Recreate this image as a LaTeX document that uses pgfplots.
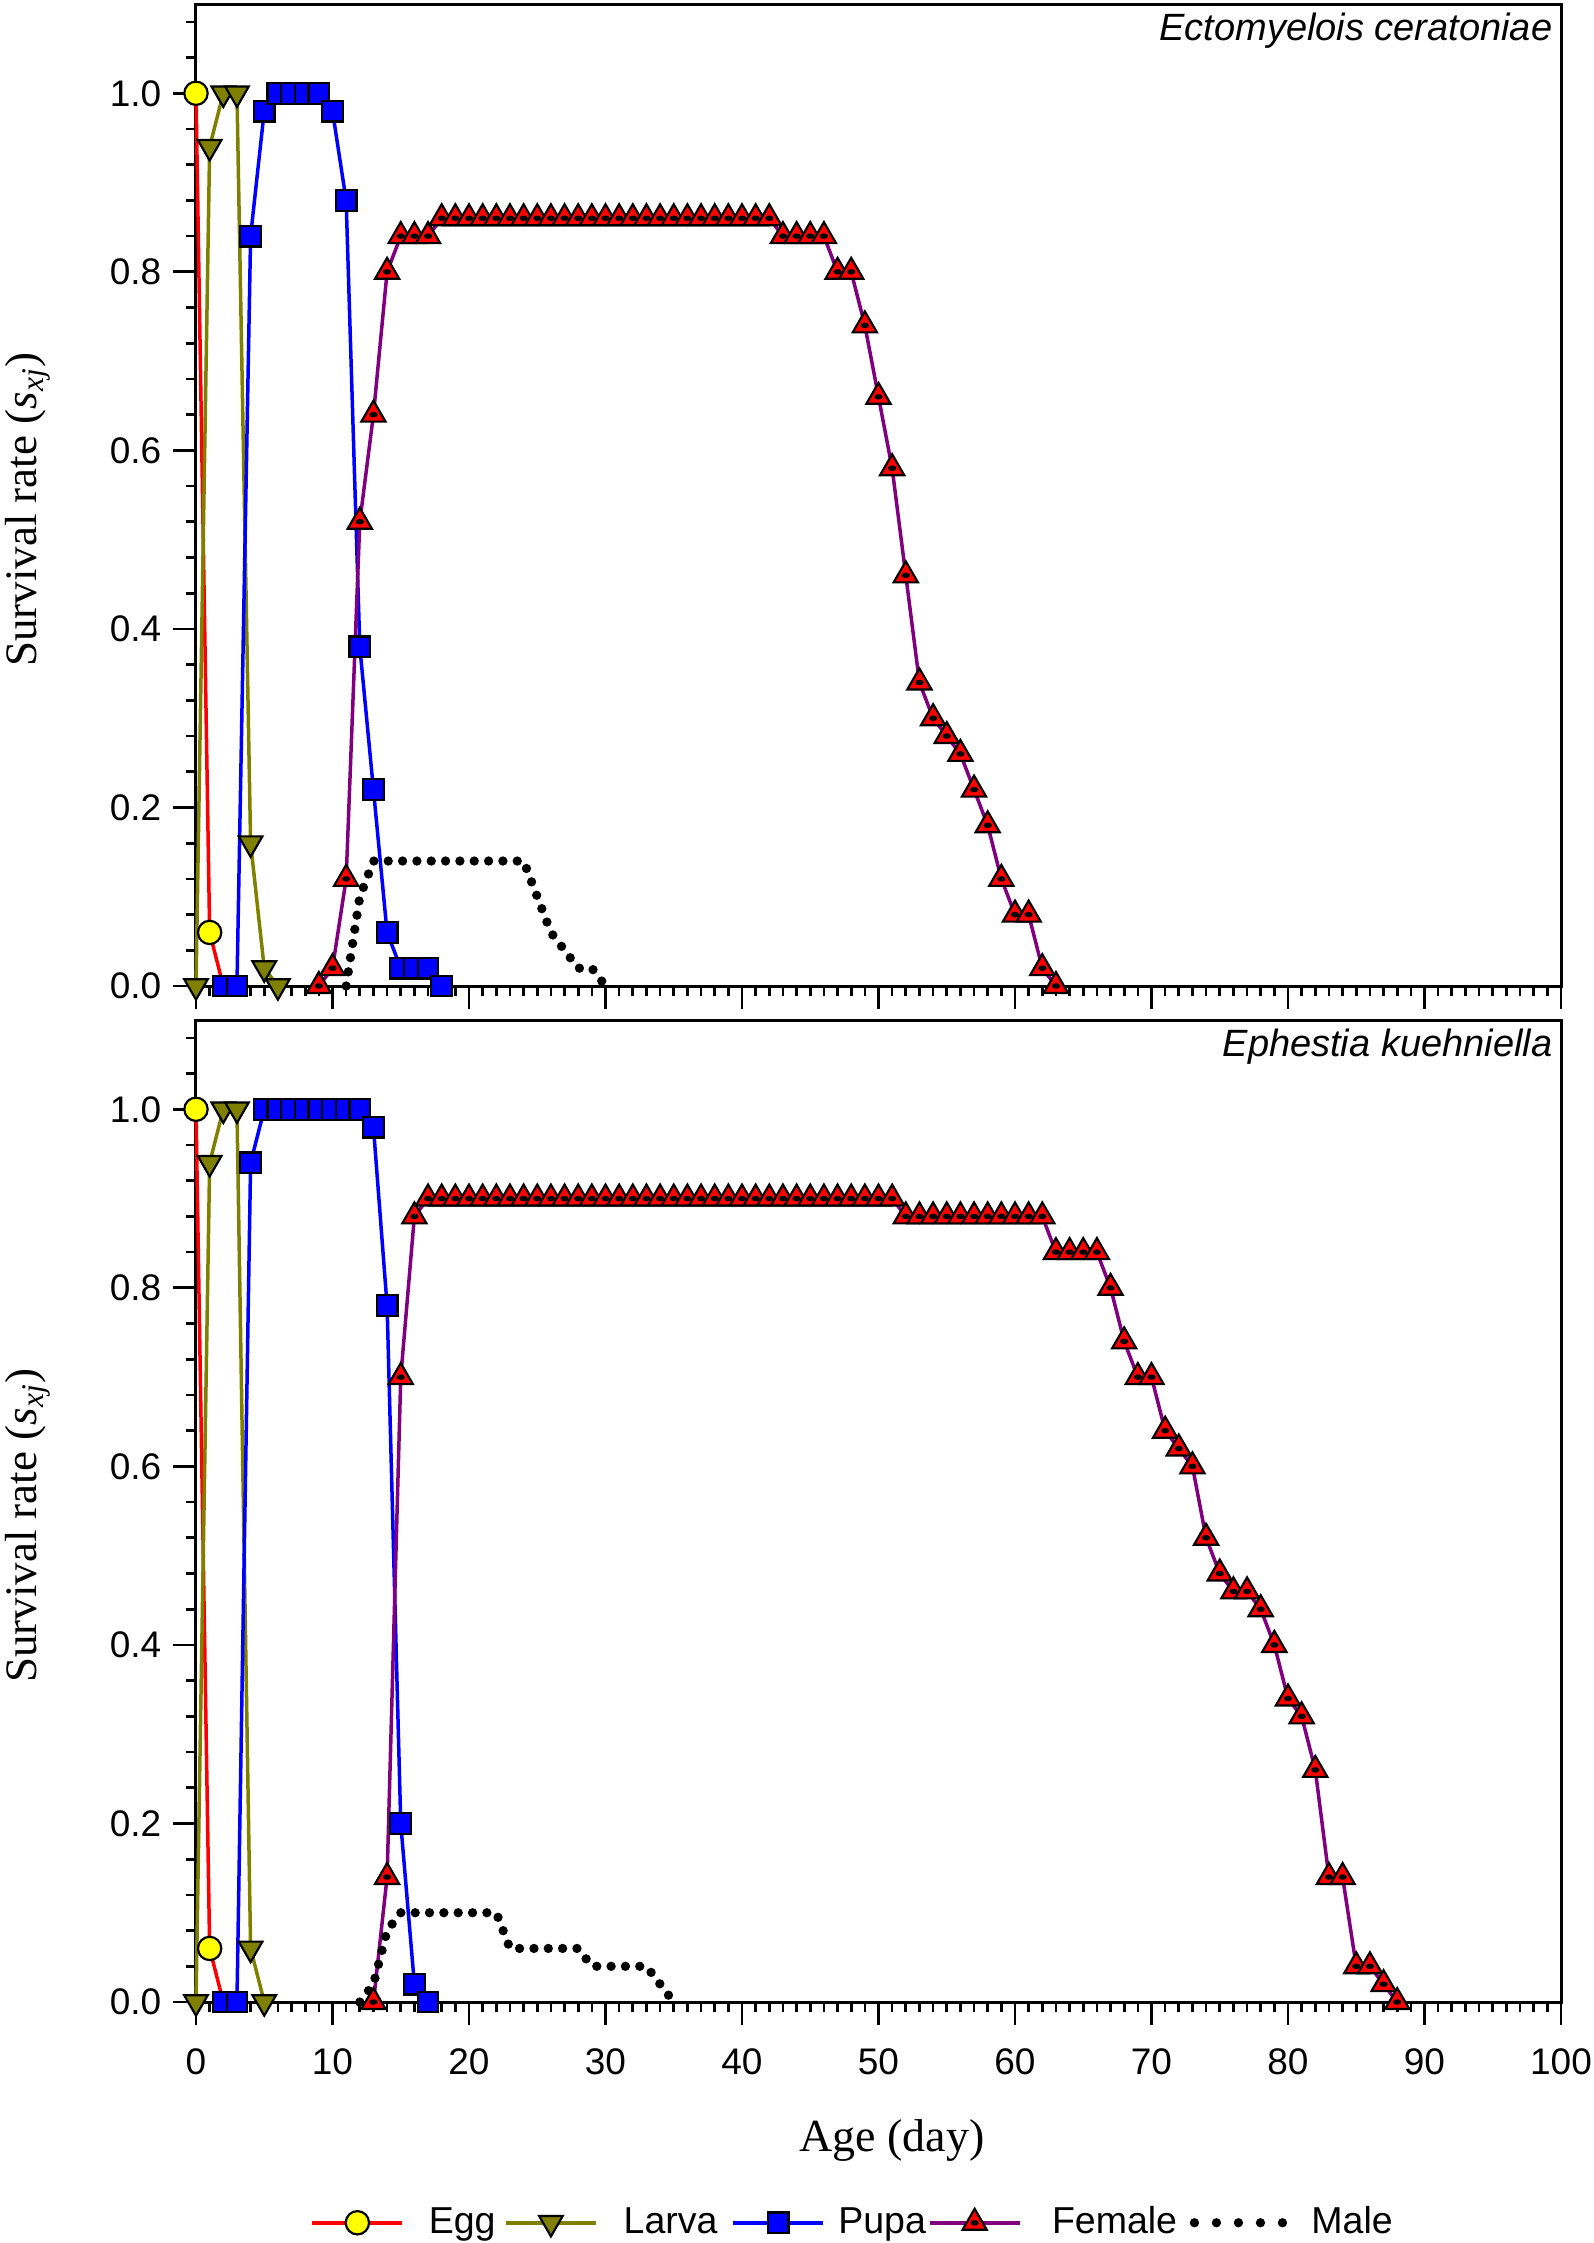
\documentclass[border=0pt]{standalone}
\usepackage{fontspec}
\setmainfont{Liberation Sans}
\newfontfamily\timesfont{Liberation Serif}
\usepackage{pgfplots}
\usepackage{pgfplotstable}
\pgfplotsset{compat=1.18}

\definecolor{eggred}{RGB}{255,0,0}
\definecolor{eggyellow}{RGB}{255,255,0}
\definecolor{larvaolive}{RGB}{128,128,0}
\definecolor{pupablue}{RGB}{0,0,255}
\definecolor{femalepurple}{RGB}{128,0,128}
\definecolor{femalered}{RGB}{255,0,0}

\pgfdeclareplotmark{tridot}{%
  \pgfpathmoveto{\pgfqpointpolar{90}{\pgfplotmarksize}}%
  \pgfpathlineto{\pgfqpointpolar{210}{\pgfplotmarksize}}%
  \pgfpathlineto{\pgfqpointpolar{330}{\pgfplotmarksize}}%
  \pgfpathclose
  \pgfusepathqfillstroke
  \pgfscope
  \pgfsetfillcolor{black}%
  \pgfpathellipse{\pgfpointorigin}{\pgfqpoint{0.3\pgfplotmarksize}{0pt}}{\pgfqpoint{0pt}{0.2\pgfplotmarksize}}%
  \pgfusepathqfill
  \endpgfscope
}

% ---------------- data: Ectomyelois ceratoniae ----------------
\pgfplotstableread{
x y
0 1.00
1 0.06
2 0.00
}\EggA
\pgfplotstableread{
x y
0 0.00
1 0.94
2 1.00
3 1.00
4 0.16
5 0.02
6 0.00
}\LarvaA
\pgfplotstableread{
x y
2 0.00
3 0.00
4 0.84
5 0.98
6 1.00
7 1.00
8 1.00
9 1.00
10 0.98
11 0.88
12 0.38
13 0.22
14 0.06
15 0.02
16 0.02
17 0.02
18 0.00
}\PupaA
\pgfplotstableread{
x y
9 0.00
10 0.02
11 0.12
12 0.52
13 0.64
14 0.80
15 0.84
16 0.84
17 0.84
18 0.86
19 0.86
20 0.86
21 0.86
22 0.86
23 0.86
24 0.86
25 0.86
26 0.86
27 0.86
28 0.86
29 0.86
30 0.86
31 0.86
32 0.86
33 0.86
34 0.86
35 0.86
36 0.86
37 0.86
38 0.86
39 0.86
40 0.86
41 0.86
42 0.86
43 0.84
44 0.84
45 0.84
46 0.84
47 0.80
48 0.80
49 0.74
50 0.66
51 0.58
52 0.46
53 0.34
54 0.30
55 0.28
56 0.26
57 0.22
58 0.18
59 0.12
60 0.08
61 0.08
62 0.02
63 0.00
}\FemaleA
\pgfplotstableread{
x y
11 0.00
12 0.10
13 0.14
14 0.14
15 0.14
16 0.14
17 0.14
18 0.14
19 0.14
20 0.14
21 0.14
22 0.14
23 0.14
24 0.14
25 0.10
26 0.06
27 0.04
28 0.02
29 0.02
30 0.00
}\MaleA

% ---------------- data: Ephestia kuehniella ----------------
\pgfplotstableread{
x y
0 1.00
1 0.06
2 0.00
}\EggB
\pgfplotstableread{
x y
0 0.00
1 0.94
2 1.00
3 1.00
4 0.06
5 0.00
}\LarvaB
\pgfplotstableread{
x y
2 0.00
3 0.00
4 0.94
5 1.00
6 1.00
7 1.00
8 1.00
9 1.00
10 1.00
11 1.00
12 1.00
13 0.98
14 0.78
15 0.20
16 0.02
17 0.00
}\PupaB
\pgfplotstableread{
x y
13 0.00
14 0.14
15 0.70
16 0.88
17 0.90
18 0.90
19 0.90
20 0.90
21 0.90
22 0.90
23 0.90
24 0.90
25 0.90
26 0.90
27 0.90
28 0.90
29 0.90
30 0.90
31 0.90
32 0.90
33 0.90
34 0.90
35 0.90
36 0.90
37 0.90
38 0.90
39 0.90
40 0.90
41 0.90
42 0.90
43 0.90
44 0.90
45 0.90
46 0.90
47 0.90
48 0.90
49 0.90
50 0.90
51 0.90
52 0.88
53 0.88
54 0.88
55 0.88
56 0.88
57 0.88
58 0.88
59 0.88
60 0.88
61 0.88
62 0.88
63 0.84
64 0.84
65 0.84
66 0.84
67 0.80
68 0.74
69 0.70
70 0.70
71 0.64
72 0.62
73 0.60
74 0.52
75 0.48
76 0.46
77 0.46
78 0.44
79 0.40
80 0.34
81 0.32
82 0.26
83 0.14
84 0.14
85 0.04
86 0.04
87 0.02
88 0.00
}\FemaleB
\pgfplotstableread{
x y
12 0.00
13 0.02
14 0.08
15 0.10
16 0.10
17 0.10
18 0.10
19 0.10
20 0.10
21 0.10
22 0.10
23 0.06
24 0.06
25 0.06
26 0.06
27 0.06
28 0.06
29 0.04
30 0.04
31 0.04
32 0.04
33 0.04
34 0.02
35 0.00
}\MaleB

\pgfplotsset{
  survstyle/.style={
    scale only axis, width=409.5pt, height=294.6pt,
    xmin=0, xmax=100, ymin=0, ymax=1.1,
    clip=false,
    axis line style={line width=0.9pt, black},
    every tick/.style={line width=0.8pt, black},
    tick align=outside, tick pos=left,
    major tick length=6.9pt, minor tick length=3pt,
    xtick={0,10,...,100}, minor xtick={0,1,...,100},
    ytick={0,0.2,0.4,0.6,0.8,1.0},
    minor ytick={0.04,0.08,...,1.08},
    /pgf/number format/assume math mode=true,
    ticklabel style={font=\fontsize{11.1}{13}\selectfont},
    yticklabel style={/pgf/number format/fixed, /pgf/number format/fixed zerofill, /pgf/number format/precision=1},
    xticklabel style={yshift=-3.6pt},
    ylabel={\timesfont\fontsize{13.5}{16}\selectfont Survival rate (\textit{s}\textsubscript{\textit{xj}})},
    ylabel style={at={(axis description cs:-0.123,0.485)}, anchor=center},
  },
  egg/.style={color=eggred, line width=1.05pt, mark=*, mark size=3.5pt,
    mark options={fill=eggyellow, draw=black, line width=0.65pt, solid}},
  larva/.style={color=larvaolive, line width=1.05pt, mark=triangle*, mark size=4.1pt,
    mark options={rotate=180, fill=larvaolive, draw=black, line width=0.65pt, solid}},
  pupa/.style={color=pupablue, line width=1.05pt, mark=square*, mark size=3.1pt,
    mark options={fill=pupablue, draw=black, line width=0.65pt, solid}},
  female/.style={color=femalepurple, line width=1.05pt, mark=tridot, mark size=4.2pt,
    mark options={fill=femalered, draw=black, line width=0.65pt, solid}},
  male/.style={color=black, line width=2.8pt, line cap=round, dash pattern=on 0pt off 4.3pt},
  linelegend/.style={legend image code/.code={\draw[mark repeat=2, mark phase=2, ##1] plot coordinates {(0pt,0pt) (13.5pt,0pt) (27pt,0pt)};}},
  egglegend/.style={legend image code/.code={\draw[##1, mark indices={2}] plot coordinates {(0pt,0pt) (13.5pt,0pt) (27pt,0pt)};}},
  dotlegend/.style={legend image code/.code={\draw[##1, dash pattern=on 0pt off 6.6pt] (0pt,0pt) -- (26.4pt,0pt);}},
}

\begin{document}
\begin{tikzpicture}
\useasboundingbox (-58.8pt,-377.1pt) rectangle (419.4pt,295.8pt);

\begin{axis}[survstyle, xticklabels={}]
\addplot[egg, mark indices={1,2}] table {\EggA};
\addplot[larva] table {\LarvaA};
\addplot[pupa] table {\PupaA};
\addplot[female] table {\FemaleA};
\addplot[male] table {\MaleA};
\node[anchor=base east, inner sep=0pt, font=\fontsize{11.4}{13}\selectfont\itshape] at (rel axis cs:0.9941,0.9633) {Ectomyelois ceratoniae};
\end{axis}

\begin{axis}[survstyle, at={(0pt,-304.8pt)},
  xlabel={\timesfont\fontsize{13.8}{16}\selectfont Age (day)},
  xlabel style={at={(axis description cs:0.5099,-0.1414)}, anchor=center},
  legend columns=5,
  legend style={at={(axis description cs:0.0835,-0.2248)}, anchor=west, draw=none, fill=none,
    inner sep=0pt, column sep=0pt, row sep=0pt,
    nodes={inner sep=0pt}, font=\fontsize{11.25}{13}\selectfont},
  legend cell align=left,
  linelegend,
]
\addplot[egg, mark indices={1,2}, egglegend] table {\EggB};
\addlegendentry{\hspace*{7.4pt}Egg\hspace*{2.6pt}}
\addplot[larva] table {\LarvaB};
\addlegendentry{\hspace*{7.8pt}Larva\hspace*{4.2pt}}
\addplot[pupa] table {\PupaB};
\addlegendentry{\hspace*{4pt}Pupa\hspace*{0.6pt}}
\addplot[female] table {\FemaleB};
\addlegendentry{\hspace*{9.2pt}Female\hspace*{3.8pt}}
\addplot[male, dotlegend] table {\MaleB};
\addlegendentry{\hspace*{7.3pt}Male}
\node[anchor=base east, inner sep=0pt, font=\fontsize{11.4}{13}\selectfont\itshape] at (rel axis cs:0.9941,0.9633) {Ephestia kuehniella};
\end{axis}
\end{tikzpicture}
\end{document}
